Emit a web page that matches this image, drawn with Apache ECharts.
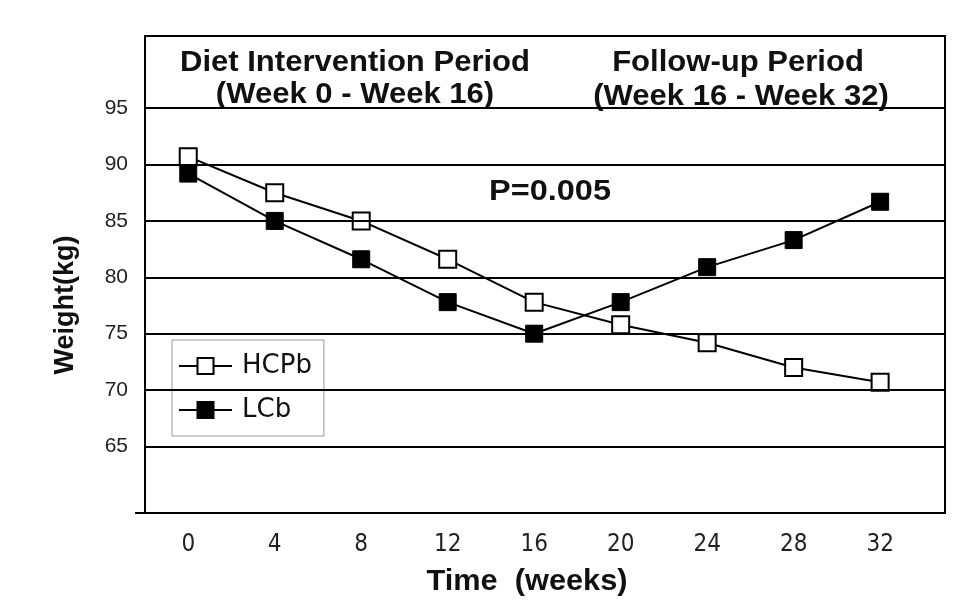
<!DOCTYPE html>
<html>
<head>
<meta charset="utf-8">
<script src="https://cdn.jsdelivr.net/npm/echarts@6/dist/echarts.min.js"></script>
<style>
html,body{margin:0;padding:0;background:#fff;}
#chart{width:977px;height:613px;}
</style>
</head>
<body>
<div id="chart"></div>
<script>
const weeks = [0, 4, 8, 12, 16, 20, 24, 28, 32];
const hcpb = [90.7, 87.5, 85.0, 81.6, 77.8, 75.8, 74.2, 72.0, 70.7];
const lcb = [89.2, 85.0, 81.6, 77.8, 75.0, 77.8, 80.9, 83.3, 86.7];
const yTicks = [65, 70, 75, 80, 85, 90, 95];
const xTicks = [0, 4, 8, 12, 16, 20, 24, 28, 32];

const chart = echarts.init(document.getElementById('chart'));
const font = 'Liberation Sans, Arial, sans-serif';

function label(text, x, y, size, sx, rot) {
  return {type: 'text', x: x, y: y, rotation: rot || 0, scaleX: sx, scaleY: 1,
    style: {text: text, font: 'bold ' + size + 'px ' + font, fill: '#111', x: 0, y: 0, align: 'center', verticalAlign: 'middle'}};
}

chart.setOption({
  animation: false,
  backgroundColor: '#fff',
  grid: {left: 145, top: 36, right: 32, bottom: 100, show: true, borderColor: '#000', borderWidth: 2, backgroundColor: 'transparent'},
  xAxis: {
    type: 'value', min: -2, max: 35,
    axisLine: {show: false},
    axisTick: {show: false},
    splitLine: {show: false},
    axisLabel: {customValues: xTicks, color: '#222', fontSize: 24, fontFamily: 'DejaVu Sans Condensed, DejaVu Sans, sans-serif', margin: 20}
  },
  yAxis: {
    type: 'value', min: 59.1, max: 101.4,
    axisLine: {show: false},
    axisTick: {show: false},
    splitLine: {show: false},
    axisLabel: {customValues: yTicks, color: '#222', fontSize: 21, fontFamily: font, margin: 17}
  },
  legend: {
    left: 172, top: 340, orient: 'vertical',
    backgroundColor: '#fff', borderColor: '#999', borderWidth: 1,
    padding: [13, 12, 13, 6], itemGap: 18,
    itemWidth: 53, itemHeight: 20,
    textStyle: {fontSize: 26, color: '#111', fontFamily: 'DejaVu Sans, sans-serif', padding: [0, 0, 0, 5]},
    data: ['HCPb', 'LCb']
  },
  series: [
    {
      name: 'HCPb', type: 'line',
      data: weeks.map((w, i) => [w, hcpb[i]]),
      symbol: 'rect', symbolSize: 17,
      lineStyle: {color: '#000', width: 2},
      itemStyle: {color: '#fff', borderColor: '#000', borderWidth: 2},
      z: 3,
      markLine: {
        silent: true, symbol: 'none', label: {show: false},
        lineStyle: {color: '#000', width: 2, type: 'solid'},
        data: yTicks.map(v => ({yAxis: v}))
      }
    },
    {
      name: 'LCb', type: 'line',
      data: weeks.map((w, i) => [w, lcb[i]]),
      symbol: 'rect', symbolSize: 17,
      lineStyle: {color: '#000', width: 2},
      itemStyle: {color: '#000', borderColor: '#000', borderWidth: 1},
      z: 4
    }
  ],
  graphic: [
    label('Diet Intervention Period', 355, 63, 29, 1.07),
    label('(Week 0 - Week 16)', 355, 95, 29, 1.07),
    label('Follow-up Period', 738, 63, 29, 1.07),
    label('(Week 16 - Week 32)', 741, 97, 29, 1.07),
    label('P=0.005', 550, 192, 29, 1.12),
    label('Weight(kg)', 66, 305, 27, 1, Math.PI / 2),
    label('Time  (weeks)', 527, 582, 29, 1.06),
    {type: 'line', shape: {x1: 135, y1: 513, x2: 146, y2: 513}, style: {stroke: '#000', lineWidth: 2}}
  ]
});
</script>
</body>
</html>
